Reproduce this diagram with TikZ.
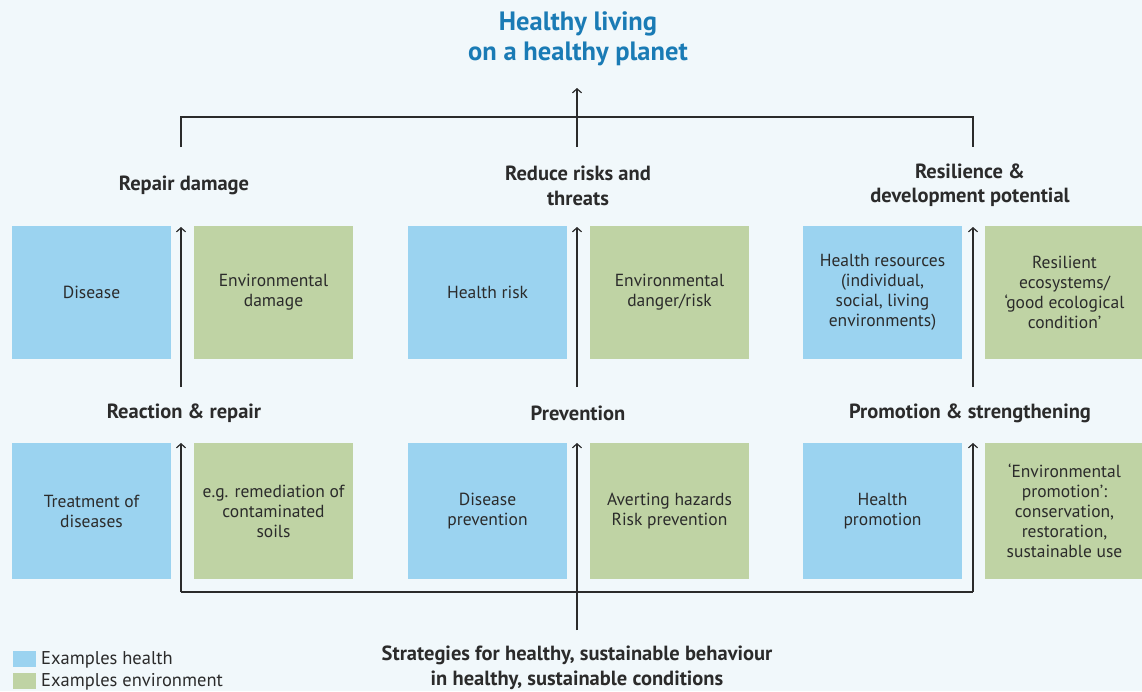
\documentclass[tikz,border=0pt]{standalone}
\usepackage{fontspec}
\setmainfont{PT Sans}
\usetikzlibrary{arrows.meta}
\definecolor{bgc}{HTML}{F1F8FB}
\definecolor{hblue}{HTML}{9BD3F0}
\definecolor{egreen}{HTML}{BFD3A4}
\definecolor{ttl}{HTML}{1A7BB5}
\definecolor{txt}{HTML}{2B2B2B}
\begin{document}
\begin{tikzpicture}[x=1pt,y=-1pt,
  box/.style={minimum width=159pt,inner sep=0pt,align=center,font=\fontsize{17.5}{20}\selectfont,text=txt},
  hbox/.style={box,fill=hblue},
  ebox/.style={box,fill=egreen},
  rowa/.style={minimum height=133pt},
  rowb/.style={minimum height=136pt},
  head/.style={align=center,font=\fontsize{20.5}{24.5}\selectfont\bfseries,text=txt},
  conn/.style={draw=txt,line width=1.2pt},
  arr/.style={conn,-{Straight Barb[length=4pt,width=9pt]}},
  legsq/.style={fill=#1,minimum width=23pt,minimum height=16pt,inner sep=0pt},
  legtxt/.style={anchor=west,inner sep=0pt,font=\fontsize{18.5}{20}\selectfont,text=txt}]
\fill[bgc] (0,0) rectangle (1142,691);
\useasboundingbox (0,0) rectangle (1142,691);

% title
\node[align=center,font=\fontsize{26.5}{30}\selectfont\bfseries,text=ttl] (title) at (578,39) {Healthy living\\on a healthy planet};

% headers
\node[head] (h1) at (184,185) {Repair damage};
\node[head] (h2) at (578,186) {Reduce risks and\\threats};
\node[head] (h3) at (970,185) {Resilience \&\\development potential};
\node[head] (m1) at (184,413) {Reaction \& repair};
\node[head] (m2) at (578,413) {Prevention};
\node[head] (m3) at (970,413) {Promotion \& strengthening};
\node[head] (bot) at (577,668) {Strategies for healthy, sustainable behaviour\\in healthy, sustainable conditions};

% row 1 boxes
\node[hbox,rowa] (b11) at (91.5,292.5) {Disease};
\node[ebox,rowa] (g11) at (273.5,292.5) {Environmental\\damage};
\node[hbox,rowa] (b12) at (487.5,292.5) {Health risk};
\node[ebox,rowa] (g12) at (669.5,292.5) {Environmental\\danger/risk};
\node[hbox,rowa] (b13) at (882.5,292.5) {Health resources\\(individual,\\social, living\\environments)};
\node[ebox,rowa] (g13) at (1064.5,292.5) {Resilient\\ecosystems/\\‘good ecological\\condition’};

% row 2 boxes
\node[hbox,rowb] (b21) at (91.5,511) {Treatment of\\diseases};
\node[ebox,rowb] (g21) at (273.5,511) {e.g. remediation of\\contaminated\\soils};
\node[hbox,rowb] (b22) at (487.5,511) {Disease\\prevention};
\node[ebox,rowb] (g22) at (669.5,511) {Averting hazards\\Risk prevention};
\node[hbox,rowb] (b23) at (882.5,511) {Health\\promotion};
\node[ebox,rowb] (g23) at (1064.5,511) {‘Environmental\\promotion’:\\conservation,\\restoration,\\sustainable use};

% connector coordinates
\coordinate (tl) at (181,117);
\coordinate (tr) at (973,117);
\coordinate (tlb) at (181,147);
\coordinate (trb) at (973,147);
\coordinate (tcb) at (577,147);
\coordinate (tct) at (577,88);
\coordinate (r1a) at (181,387);
\coordinate (r1b) at (577,387);
\coordinate (r1c) at (973,387);
\coordinate (e1a) at (181,227);
\coordinate (e1b) at (577,227);
\coordinate (e1c) at (973,227);
\coordinate (bl) at (181,592);
\coordinate (br) at (973,592);
\coordinate (bc) at (577,630);
\coordinate (e2a) at (181,443);
\coordinate (e2b) at (577,443);
\coordinate (e2c) at (973,443);

% connectors
\draw[conn] (tlb) -- (tl) -- (tr) -- (trb);
\draw[arr] (tcb) -- (tct);
\draw[arr] (r1a) -- (e1a);
\draw[arr] (r1b) -- (e1b);
\draw[arr] (r1c) -- (e1c);
\draw[conn] (bl) -- (br);
\draw[arr] (bl) -- (e2a);
\draw[arr] (br) -- (e2c);
\draw[arr] (bc) -- (e2b);

% legend
\node[legsq=hblue] (lq1) at (24.5,659) {};
\node[legsq=egreen] (lq2) at (24.5,681) {};
\node[legtxt] (lt1) at (41,660) {Examples health};
\node[legtxt] (lt2) at (41,682) {Examples environment};
\end{tikzpicture}
\end{document}
